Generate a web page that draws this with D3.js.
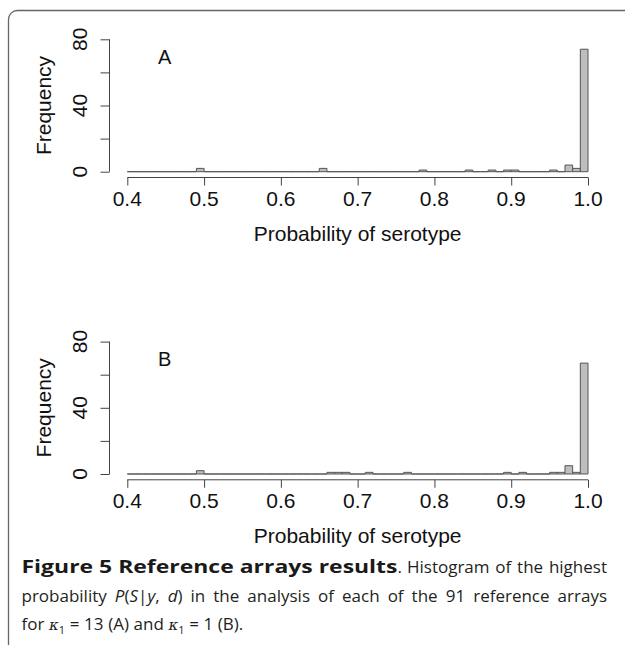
<!DOCTYPE html>
<html>
<head>
<meta charset="utf-8">
<script src="https://cdn.jsdelivr.net/npm/d3@7"></script>
<style>
  html, body { margin: 0; padding: 0; background: #fff; }
  svg { display: block; }
</style>
</head>
<body>
<svg id="chart" width="625" height="645"></svg>
<script>
// ---------------- DATA ----------------
// Histogram bins of width 0.01 from 0.40 to 1.00 (60 bins)
const binStart = 0.40;
const binWidth = 0.01;
const countsA = [
  0,0,0,0,0,0,0,0,0,2,
  0,0,0,0,0,0,0,0,0,0,
  0,0,0,0,0,2,0,0,0,0,
  0,0,0,0,0,0,0,0,1,0,
  0,0,0,0,1,0,0,1,0,1,
  1,0,0,0,0,1,0,4,2,74
];
const countsB = [
  0,0,0,0,0,0,0,0,0,2,
  0,0,0,0,0,0,0,0,0,0,
  0,0,0,0,0,0,1,1,1,0,
  0,1,0,0,0,0,1,0,0,0,
  0,0,0,0,0,0,0,0,0,1,
  0,1,0,0,0,1,1,5,1,67
];
const xTicks = [0.4, 0.5, 0.6, 0.7, 0.8, 0.9, 1.0];
const yTicks = [0, 20, 40, 60, 80];
const yLabels = [0, 40, 80];
const panelLabels = ["A", "B"];
const xTitle = "Probability of serotype";
const yTitle = "Frequency";

// ---------------- DRAW ----------------
const svg = d3.select("#chart");
const axisColor = "#444";
const fontAxis = "Liberation Sans, Arial, sans-serif";
const axisSize = 21;

// frame
svg.append("rect")
  .attr("x", 8.5).attr("y", 10.5)
  .attr("width", 700).attr("height", 700)
  .attr("rx", 9).attr("ry", 9)
  .attr("fill", "none").attr("stroke", "#666").attr("stroke-width", 1.3);

const x = d3.scaleLinear().domain([0.4, 1.0]).range([127.3, 588.0]);

function panel(counts, offsetY, label) {
  const g = svg.append("g").attr("transform", `translate(0,${offsetY})`);
  const y = d3.scaleLinear().domain([0, 80]).range([171.7, 39.3]);

  // bars (as paths, so zero-count bins still draw their outline on the baseline)
  g.selectAll("path.bar").data(counts).enter().append("path")
    .attr("class", "bar")
    .attr("d", (d, i) => {
      const x0 = x(binStart + i * binWidth), x1 = x(binStart + (i + 1) * binWidth);
      const y0 = y(0), y1 = y(d);
      return `M${x0},${y0}V${y1}H${x1}V${y0}Z`;
    })
    .attr("fill", "#bebebe")
    .attr("stroke", "#555")
    .attr("stroke-width", 1);

  // y axis
  const yAxis = d3.axisLeft(y).tickValues(yTicks).tickSize(9).tickFormat("");
  const ya = g.append("g").attr("transform", "translate(109.5,0)").call(yAxis);
  ya.select(".domain").attr("stroke", axisColor).attr("d", `M-0,${y(0)}V${y(80)}`);
  ya.selectAll(".tick line").attr("stroke", axisColor);
  g.selectAll("text.ylab").data(yLabels).enter().append("text")
    .attr("class", "ylab")
    .attr("transform", d => `translate(87,${y(d)}) rotate(-90)`)
    .attr("text-anchor", "middle")
    .attr("font-family", fontAxis).attr("font-size", axisSize)
    .attr("fill", "#111")
    .text(d => d);
  g.append("text")
    .attr("transform", `translate(51,${(y(0) + y(80)) / 2}) rotate(-90)`)
    .attr("text-anchor", "middle")
    .attr("font-family", fontAxis).attr("font-size", axisSize)
    .attr("fill", "#111")
    .text(yTitle);

  // x axis
  const xAxis = d3.axisBottom(x).tickValues(xTicks).tickSize(8).tickFormat("");
  const xa = g.append("g").attr("transform", "translate(0,177.5)").call(xAxis);
  xa.select(".domain").attr("stroke", axisColor).attr("d", `M${x(0.4)},0H${x(1.0)}`);
  xa.selectAll(".tick line").attr("stroke", axisColor);
  g.selectAll("text.xlab").data(xTicks).enter().append("text")
    .attr("class", "xlab")
    .attr("x", d => x(d)).attr("y", 206)
    .attr("text-anchor", "middle")
    .attr("font-family", fontAxis).attr("font-size", axisSize)
    .attr("fill", "#111")
    .text(d => d3.format(".1f")(d));
  g.append("text")
    .attr("x", (x(0.4) + x(1.0)) / 2).attr("y", 241)
    .attr("text-anchor", "middle")
    .attr("font-family", fontAxis).attr("font-size", axisSize)
    .attr("fill", "#111")
    .text(xTitle);

  // panel label
  g.append("text")
    .attr("x", 158).attr("y", 63.5)
    .attr("font-family", fontAxis).attr("font-size", 20)
    .attr("fill", "#111")
    .text(label);
}

panel(countsA, 0, panelLabels[0]);
panel(countsB, 302.3, panelLabels[1]);

// ---------------- CAPTION ----------------
const capFont = "Open Sans, Noto Sans, sans-serif";
const capSize = 17;
const capColor = "#231f20";
const capLeft = 21.5, capRight = 607;
const cap = svg.append("g");

function makeWord(parts, yb) {
  const t = cap.append("text")
    .attr("x", 0).attr("y", yb)
    .attr("font-family", capFont).attr("font-size", capSize)
    .attr("fill", capColor);
  let sub = false;
  parts.forEach(([txt, st]) => {
    const ts = t.append("tspan").text(txt);
    if (st === "i") ts.attr("font-style", "italic");
    if (st === "k") ts.attr("font-family", "DejaVu Serif, Liberation Serif, serif").attr("font-style", "italic").attr("font-size", 15);
    if (st === "s") { ts.attr("font-size", 11).attr("dy", 4); sub = true; }
    else if (sub) { ts.attr("dy", -4); sub = false; }
  });
  return t;
}
function layout(nodes, start, end, justify) {
  const widths = nodes.map(n => n.node().getComputedTextLength());
  const total = d3.sum(widths);
  let gap = 4.6;
  if (justify) gap = Math.max(2, (end - start - total) / (nodes.length - 1));
  let cx = start;
  nodes.forEach((t, i) => { t.attr("transform", `translate(${cx},0)`); cx += widths[i] + gap; });
}

// Line 1: bold title + regular text
const boldTitle = "Figure 5 Reference arrays results";
const line1Y = 573;
const boldEnd = 397.5;
cap.append("text")
  .attr("x", capLeft).attr("y", line1Y)
  .attr("font-family", capFont).attr("font-size", 18).attr("font-weight", "bold")
  .attr("fill", "#1a1a1a")
  .attr("textLength", boldEnd - capLeft).attr("lengthAdjust", "spacingAndGlyphs")
  .text(boldTitle);
const line1Rest = [[[".", "n"]], [["Histogram", "n"]], [["of", "n"]], [["the", "n"]], [["highest", "n"]]];
{
  const nodes = line1Rest.map(w => makeWord(w, line1Y));
  const dotW = nodes[0].node().getComputedTextLength();
  nodes[0].attr("transform", `translate(${boldEnd},0)`);
  layout(nodes.slice(1), boldEnd + dotW + 5, capRight, true);
}

const captionLines = [
  { y: 601.5, justify: true, words: [
    [["probability","n"]], [["P","i"],["(","n"],["S","i"],["|","n"],["y","i"],[",","n"]], [["d","i"],[")","n"]],
    [["in","n"]], [["the","n"]], [["analysis","n"]], [["of","n"]], [["each","n"]], [["of","n"]],
    [["the","n"]], [["91","n"]], [["reference","n"]], [["arrays","n"]]
  ]},
  { y: 629.5, justify: false, words: [
    [["for","n"]], [["κ","k"],["1","s"]], [["=","n"]], [["13","n"]], [["(A)","n"]], [["and","n"]],
    [["κ","k"],["1","s"]], [["=","n"]], [["1","n"]], [["(B).","n"]]
  ]}
];
captionLines.forEach(line => {
  const nodes = line.words.map(w => makeWord(w, line.y));
  layout(nodes, capLeft, capRight, line.justify);
});
</script>
</body>
</html>
